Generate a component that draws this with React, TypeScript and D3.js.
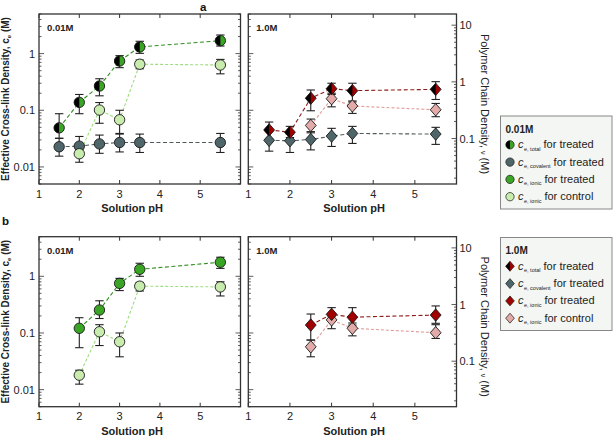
import React from 'react';
import * as d3 from 'd3';

// ---------- data ----------
const pHFull = [1.5, 2, 2.5, 3, 3.5, 5.5];
const pHCtrl01 = [2, 2.5, 3, 3.5, 5.5];
const pHCtrl10 = [2.5, 3, 3.5, 5.5];
const xTicks = [1, 2, 3, 4, 5, 6];
const xTickLabels = ['1', '2', '3', '4', '5'];
const yTickLabels = [1, 0.1, 0.01];
const nuTickLabels = [10, 1, 0.1];

// panel a, 0.01M
const total01 = [0.049, 0.138, 0.268, 0.74, 1.31, 1.69];
const total01Lo = [0.032, 0.087, 0.18, 0.565, 1.01, 1.36];
const total01Hi = [0.087, 0.19, 0.36, 0.92, 1.65, 2.13];
const cov01 = [0.0227, 0.0233, 0.0255, 0.027, 0.027, 0.027];
const cov01Lo = [0.0155, 0.016, 0.0174, 0.0184, 0.018, 0.018];
const cov01Hi = [0.032, 0.0345, 0.0365, 0.039, 0.038, 0.039];
const ctrl01 = [0.0171, 0.101, 0.068, 0.65, 0.63];
const ctrl01Lo = [0.0121, 0.059, 0.038, 0.54, 0.44];
const ctrl01Hi = [0.0205, 0.137, 0.1, 0.77, 0.79];

// panel a, 1.0M
const total10 = [0.045, 0.041, 0.163, 0.24, 0.222, 0.234];
const total10Lo = [0.031, 0.033, 0.098, 0.19, 0.14, 0.155];
const total10Hi = [0.062, 0.052, 0.228, 0.3, 0.3, 0.32];
const cov10 = [0.0295, 0.029, 0.0305, 0.035, 0.039, 0.038];
const cov10Lo = [0.019, 0.018, 0.02, 0.023, 0.026, 0.025];
const cov10Hi = [0.042, 0.038, 0.042, 0.048, 0.052, 0.05];
const ctrl10 = [0.054, 0.16, 0.119, 0.102];
const ctrl10Lo = [0.04, 0.115, 0.088, 0.077];
const ctrl10Hi = [0.07, 0.2, 0.146, 0.132];

// panel b, 0.01M
const ionic01 = [0.121, 0.254, 0.75, 1.33, 1.77];
const ionic01Lo = [0.055, 0.18, 0.56, 1.0, 1.38];
const ionic01Hi = [0.186, 0.37, 0.92, 1.7, 2.17];
const ctrl01b = [0.018, 0.105, 0.07, 0.67, 0.65];
const ctrl01bLo = [0.0125, 0.06, 0.038, 0.55, 0.45];
const ctrl01bHi = [0.022, 0.14, 0.1, 0.78, 0.8];

// panel b, 1.0M
const ionic10 = [0.138, 0.213, 0.19, 0.207];
const ionic10Lo = [0.075, 0.17, 0.138, 0.148];
const ionic10Hi = [0.216, 0.28, 0.28, 0.3];
const ctrl10b = [0.057, 0.17, 0.121, 0.101];
const ctrl10bLo = [0.038, 0.119, 0.089, 0.08];
const ctrl10bHi = [0.075, 0.2, 0.15, 0.14];

const legendTxt = ['for treated', 'for treated', 'for treated', 'for control'];

// ---------- styles ----------
const FONT = '"Liberation Sans", Arial, sans-serif';
const GREEN = '#3aa524';
const LGREEN = '#c8ebae';
const SLATE = '#4e6669';
const RED = '#a00000';
const PINK = '#e3aaaa';
const K = 3.15; // nu = ce * K
const YDOM: [number, number] = [0.005, 5];

type Shape = 'circle' | 'diamond';
interface Series {
  x: number[]; y: number[]; lo: number[]; hi: number[];
  fill: string; line: string; shape: Shape; half?: boolean; dash: string;
}

function logTicks(d0: number, d1: number) {
  const out: { v: number; major: boolean }[] = [];
  for (let e = -4; e <= 3; e++) {
    for (let m = 1; m <= 9; m++) {
      const v = m * Math.pow(10, e);
      if (v >= d0 * 0.9999 && v <= d1 * 1.0001) out.push({ v, major: m === 1 });
    }
  }
  return out;
}

function Marker({ cx, cy, s }: { cx: number; cy: number; s: Series }) {
  const r = 5.2;
  if (s.shape === 'circle') {
    return (
      <g>
        <circle cx={cx} cy={cy} r={r} fill={s.fill} />
        {s.half && <path d={`M${cx},${cy - r} A${r},${r} 0 0 0 ${cx},${cy + r} Z`} fill="#000" />}
        <circle cx={cx} cy={cy} r={r} fill="none" stroke="#1a1a1a" strokeWidth={0.9} />
      </g>
    );
  }
  const h = 6.2, w = 5.4;
  return (
    <g>
      <path d={`M${cx},${cy - h} L${cx + w},${cy} L${cx},${cy + h} L${cx - w},${cy} Z`} fill={s.fill} />
      {s.half && <path d={`M${cx},${cy - h} L${cx - w},${cy} L${cx},${cy + h} Z`} fill="#000" />}
      <path d={`M${cx},${cy - h} L${cx + w},${cy} L${cx},${cy + h} L${cx - w},${cy} Z`} fill="none" stroke="#1a1a1a" strokeWidth={0.9} />
    </g>
  );
}

function Plot({ x0, x1, top, bottom, series, tag, leftLabels, nuAxis }: {
  x0: number; x1: number; top: number; bottom: number; series: Series[]; tag: string;
  leftLabels: boolean; nuAxis: boolean;
}) {
  const xs = d3.scaleLinear().domain([1, 6]).range([x0, x1]);
  const ys = d3.scaleLog().domain(YDOM).range([bottom, top]);
  const nus = d3.scaleLog().domain([YDOM[0] * K, YDOM[1] * K]).range([bottom, top]);
  const ceT = logTicks(YDOM[0], YDOM[1]);
  const nuT = logTicks(YDOM[0] * K, YDOM[1] * K);
  const line = d3.line<[number, number]>().x(d => xs(d[0])).y(d => ys(d[1]));
  const rightT = nuAxis ? nuT : ceT;
  const rightS = nuAxis ? nus : ys;
  return (
    <g>
      <rect x={x0} y={top} width={x1 - x0} height={bottom - top} fill="none" stroke="#333" strokeWidth={1.3} />
      {xTicks.map(t => (
        <g key={'xt' + t}>
          <line x1={xs(t)} x2={xs(t)} y1={bottom} y2={bottom - 4} stroke="#333" strokeWidth={1} />
          <line x1={xs(t)} x2={xs(t)} y1={top} y2={top + 4} stroke="#333" strokeWidth={1} />
        </g>
      ))}
      {xTickLabels.map((l, i) => (
        <text key={'xl' + i} x={xs(+l)} y={bottom + 13.5} fontSize={11} textAnchor="middle" fontFamily={FONT} fill="#222">{l}</text>
      ))}
      {ceT.map((t, i) => (
        <line key={'lt' + i} x1={x0} x2={x0 + (t.major ? 5 : 2.5)} y1={ys(t.v)} y2={ys(t.v)} stroke="#333" strokeWidth={0.8} />
      ))}
      {rightT.map((t, i) => (
        <line key={'rt' + i} x1={x1} x2={x1 - (t.major ? 5 : 2.5)} y1={rightS(t.v)} y2={rightS(t.v)} stroke="#333" strokeWidth={0.8} />
      ))}
      {leftLabels && yTickLabels.map((v, i) => (
        <text key={'yl' + i} x={x0 - 4} y={ys(v) + 4} fontSize={11} textAnchor="end" fontFamily={FONT} fill="#222">{String(v)}</text>
      ))}
      {nuAxis && nuTickLabels.map((v, i) => (
        <text key={'nl' + i} x={x1 + 3} y={nus(v) + 4} fontSize={11} textAnchor="start" fontFamily={FONT} fill="#222">{String(v)}</text>
      ))}
      <text x={x0 + 8} y={top + 17} fontSize={9.5} fontWeight="bold" fontFamily={FONT} fill="#222">{tag}</text>
      {series.map((s, i) => (
        <path key={'ln' + i} d={line(s.x.map((x, j) => [x, s.y[j]] as [number, number])) || ''}
          fill="none" stroke={s.line} strokeWidth={1.1} strokeDasharray={s.dash} />
      ))}
      {series.map((s, i) => (
        <g key={'eb' + i}>
          {s.x.map((x, j) => (
            <g key={j}>
              <line x1={xs(x)} x2={xs(x)} y1={ys(s.lo[j])} y2={ys(s.hi[j])} stroke="#222" strokeWidth={1.1} />
              <line x1={xs(x) - 4.2} x2={xs(x) + 4.2} y1={ys(s.lo[j])} y2={ys(s.lo[j])} stroke="#222" strokeWidth={1.1} />
              <line x1={xs(x) - 4.2} x2={xs(x) + 4.2} y1={ys(s.hi[j])} y2={ys(s.hi[j])} stroke="#222" strokeWidth={1.1} />
            </g>
          ))}
        </g>
      ))}
      {series.map((s, i) => (
        <g key={'mk' + i}>
          {s.x.map((x, j) => <Marker key={j} cx={xs(x)} cy={ys(s.y[j])} s={s} />)}
        </g>
      ))}
    </g>
  );
}

function Legend({ x, y, title, items, texts }: {
  x: number; y: number; title: string; items: { s: Series; sub: string }[]; texts: string[];
}) {
  return (
    <g>
      <rect x={x} y={y} width={111.5} height={93} fill="#f3f6f3" stroke="#888" strokeWidth={1} />
      <text x={x + 5} y={y + 16.5} fontSize={10} fontWeight="bold" fontFamily={FONT} fill="#222">{title}</text>
      {items.map((it, i) => {
        const cy = y + 28.8 + i * 17.3;
        return (
          <g key={i}>
            <g transform={`translate(${x + 9.5},${cy}) scale(0.8) translate(${-(x + 9.5)},${-cy})`}>
              <Marker cx={x + 9.5} cy={cy} s={it.s} />
            </g>
            <text x={x + 17.5} y={cy + 3.5} fontFamily={FONT} fill="#222">
              <tspan fontSize={11} fontStyle="italic">c</tspan>
              <tspan fontSize={5.5} dy={2.5} dx={0.5}>{'e, ' + it.sub}</tspan>
              <tspan fontSize={11} dy={-2.5} dx={3}>{texts[i]}</tspan>
            </text>
          </g>
        );
      })}
    </g>
  );
}

export default function App() {
  const sTotal01: Series = { x: pHFull, y: total01, lo: total01Lo, hi: total01Hi, fill: GREEN, line: '#2f8f1f', shape: 'circle', half: true, dash: '4,2.5' };
  const sCov01: Series = { x: pHFull, y: cov01, lo: cov01Lo, hi: cov01Hi, fill: SLATE, line: '#505a5c', shape: 'circle', dash: '4,2.5' };
  const sCtrl01: Series = { x: pHCtrl01, y: ctrl01, lo: ctrl01Lo, hi: ctrl01Hi, fill: LGREEN, line: '#9edc80', shape: 'circle', dash: '3,2' };
  const sTotal10: Series = { x: pHFull, y: total10, lo: total10Lo, hi: total10Hi, fill: RED, line: '#8e1c1c', shape: 'diamond', half: true, dash: '4,2.5' };
  const sCov10: Series = { x: pHFull, y: cov10, lo: cov10Lo, hi: cov10Hi, fill: SLATE, line: '#505a5c', shape: 'diamond', dash: '4,2.5' };
  const sCtrl10: Series = { x: pHCtrl10, y: ctrl10, lo: ctrl10Lo, hi: ctrl10Hi, fill: PINK, line: '#e29c9c', shape: 'diamond', dash: '3,2' };
  const sIon01: Series = { x: pHCtrl01, y: ionic01, lo: ionic01Lo, hi: ionic01Hi, fill: GREEN, line: '#2f8f1f', shape: 'circle', dash: '4,2.5' };
  const sCtrl01b: Series = { x: pHCtrl01, y: ctrl01b, lo: ctrl01bLo, hi: ctrl01bHi, fill: LGREEN, line: '#9edc80', shape: 'circle', dash: '3,2' };
  const sIon10: Series = { x: pHCtrl10, y: ionic10, lo: ionic10Lo, hi: ionic10Hi, fill: RED, line: '#8e1c1c', shape: 'diamond', dash: '4,2.5' };
  const sCtrl10b: Series = { x: pHCtrl10, y: ctrl10b, lo: ctrl10bLo, hi: ctrl10bHi, fill: PINK, line: '#e29c9c', shape: 'diamond', dash: '3,2' };

  const panels = [
    { top: 14, bottom: 184, label: 'a', labelX: 200, labelY: 11,
      left: [sCov01, sCtrl01, sTotal01], right: [sCov10, sCtrl10, sTotal10] },
    { top: 236.7, bottom: 406.7, label: 'b', labelX: 2, labelY: 225,
      left: [sCtrl01b, sIon01], right: [sCtrl10b, sIon10] },
  ];

  const leg01 = [
    { s: sTotal01, sub: 'total' },
    { s: sCov01, sub: 'covalent' },
    { s: sIon01, sub: 'ionic' },
    { s: sCtrl01, sub: 'ionic' },
  ];
  const leg10 = [
    { s: sTotal10, sub: 'total' },
    { s: sCov10, sub: 'covalent' },
    { s: sIon10, sub: 'ionic' },
    { s: sCtrl10, sub: 'ionic' },
  ];

  return (
    <svg width={614} height={436} style={{ position: 'absolute', left: 0, top: 0, background: '#fff' }}>
      {panels.map((p, i) => (
        <g key={i}>
          <text x={p.labelX} y={p.labelY} fontSize={11.5} fontWeight="bold" fontFamily={FONT} fill="#111">{p.label}</text>
          <Plot x0={39} x1={240.5} top={p.top} bottom={p.bottom} series={p.left} tag="0.01M" leftLabels={true} nuAxis={false} />
          <Plot x0={248.3} x1={456.5} top={p.top} bottom={p.bottom} series={p.right} tag="1.0M" leftLabels={false} nuAxis={true} />
          <text x={132} y={p.bottom + 28} fontSize={11} fontWeight="bold" textAnchor="middle" fontFamily={FONT} fill="#222">Solution pH</text>
          <text x={354} y={p.bottom + 28} fontSize={11} fontWeight="bold" textAnchor="middle" fontFamily={FONT} fill="#222">Solution pH</text>
          <text transform={`translate(9,${(p.top + p.bottom) / 2}) rotate(-90)`} textAnchor="middle" fontSize={10} fontWeight="bold" fontFamily={FONT} fill="#222">
            <tspan>Effective Cross-link Density, c</tspan>
            <tspan fontSize={6} dy={2}>e</tspan>
            <tspan dy={-2}> (M)</tspan>
          </text>
          <text transform={`translate(481,${(p.top + p.bottom) / 2 + 5}) rotate(90)`} textAnchor="middle" fontSize={11} fontFamily={FONT} fill="#222">
            <tspan>Polymer Chain Density, </tspan>
            <tspan fontSize={7}>ν</tspan>
            <tspan> (M)</tspan>
          </text>
        </g>
      ))}
      <Legend x={500.5} y={116} title="0.01M" items={leg01} texts={legendTxt} />
      <Legend x={500.5} y={237.5} title="1.0M" items={leg10} texts={legendTxt} />
    </svg>
  );
}
